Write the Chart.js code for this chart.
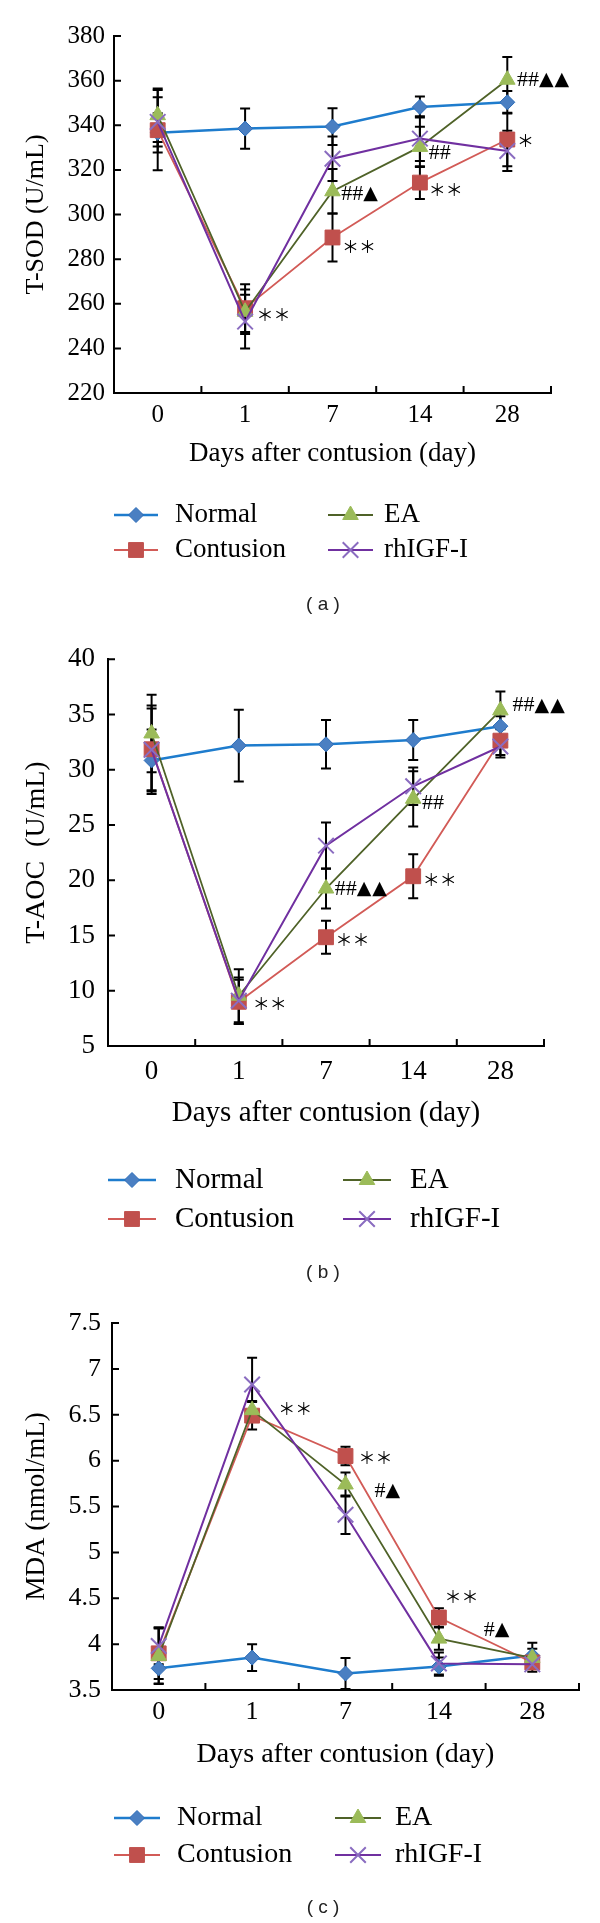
<!DOCTYPE html>
<html>
<head>
<meta charset="utf-8">
<script src="https://cdn.jsdelivr.net/npm/chart.js@4.4.1/dist/chart.umd.min.js"></script>
<style>
  html, body { margin: 0; padding: 0; background: #fff; }
  body { width: 600px; height: 1923px; position: relative; overflow: hidden; }
  canvas { position: absolute; left: 0; }
</style>
</head>
<body>
<canvas id="sod" width="600" height="630" style="top:0px"></canvas>
<canvas id="aoc" width="600" height="660" style="top:630px"></canvas>
<canvas id="mda" width="600" height="633" style="top:1290px"></canvas>
<script>
const days = ['0', '1', '7', '14', '28'];
const groups = ['Normal', 'Contusion', 'EA', 'rhIGF-I'];

// (a) T-SOD, U/mL -- means and SD
const sodNormal = [336.6, 338.5, 339.4, 348.2, 350.3];
const sodContusion = [337.8, 258.0, 289.7, 314.3, 333.6];
const sodEA = [344.5, 256.4, 310.4, 330.3, 360.4];
const sodIGF = [341.5, 252.0, 325.0, 334.0, 328.5];
const sodNormalSd = [8.8, 9.0, 8.2, 4.7, 5.0];
const sodContusionSd = [18, 10.7, 10.8, 7.3, 12];
const sodEASd = [12, 10, 10, 9, 10.2];
const sodIGFSd = [11, 12, 10, 10, 9];

// (b) T-AOC, U/mL
const aocNormal = [30.84, 32.18, 32.3, 32.69, 33.94];
const aocContusion = [31.85, 9.0, 14.84, 20.36, 32.63];
const aocEA = [33.28, 9.55, 19.25, 27.37, 35.37];
const aocIGF = [31.8, 9.1, 23.13, 28.5, 32.1];
const aocNormalSd = [2.8, 3.25, 2.2, 1.8, 0.9];
const aocContusionSd = [3.7, 2.0, 1.5, 2.0, 1.3];
const aocEASd = [3.5, 2.4, 1.8, 2.5, 1.7];
const aocIGFSd = [4.0, 2.1, 2.1, 1.7, 1.0];

// (c) MDA, nmol/mL
const mdaNormal = [3.736, 3.853, 3.68, 3.755, 3.875];
const mdaContusion = [3.9, 6.49, 6.05, 4.29, 3.8];
const mdaEA = [3.87, 6.55, 5.74, 4.06, 3.85];
const mdaIGF = [3.98, 6.83, 5.41, 3.79, 3.78];
const mdaNormalSd = [0.17, 0.145, 0.17, 0.1, 0.14];
const mdaContusionSd = [0.28, 0.15, 0.1, 0.1, 0.07];
const mdaEASd = [0.3, 0.1, 0.13, 0.12, 0.1];
const mdaIGFSd = [0.2, 0.29, 0.21, 0.12, 0.08];

// significance marks: text, category position, value
const sodMarks = [['＊＊', 1.13, 255], ['##▲', 2.1, 309.2], ['＊＊', 2.11, 285.5], ['##', 3.1, 327.5],
  ['＊＊', 3.1, 311.4], ['＊', 4.11, 333.3], ['##▲▲', 4.11, 360.2]];
const aocMarks = [['＊＊', 1.16, 8.85], ['##▲▲', 2.1, 19.2], ['＊＊', 2.11, 14.6], ['##', 3.1, 27],
  ['＊＊', 3.11, 20.1], ['##▲▲', 4.14, 35.8]];
const mdaMarks = [['＊＊', 1.28, 6.565], ['＊＊', 2.14, 6.03], ['#▲', 2.31, 5.67], ['＊＊', 3.06, 4.515],
  ['#▲', 3.48, 4.155]];

const SERIF = '"Liberation Serif", "Times New Roman", serif';
const glyphFont = {
  '＊': '17px "Noto Sans CJK SC"',
  '▲': '19px "DejaVu Sans"',
  '#': '22px ' + SERIF,
};

const looks = [
  { line: '#1e7ccd', fill: '#4a7fc2', edge: '#2b6cb8', shape: 'rectRot', r: 7.5, width: 2.5, bw: 1 },
  { line: '#d25b57', fill: '#c0504d', edge: '#c0504d', shape: 'rect', r: 10.5, width: 1.8, bw: 1 },
  { line: '#4f6228', fill: '#9bbb59', edge: '#9bbb59', shape: 'triangle', r: 9, width: 1.8, bw: 1 },
  { line: '#7030a0', fill: '#8a6cc0', edge: '#8a6cc0', shape: 'crossRot', r: 11, width: 2, bw: 2 },
];

function drawMarker(ctx, look, x, y) {
  ctx.save();
  ctx.fillStyle = look.fill;
  ctx.strokeStyle = look.edge;
  ctx.lineWidth = look.bw;
  Chart.helpers.drawPoint(ctx, { pointStyle: look.shape, radius: look.r, rotation: 0, borderWidth: look.bw }, x, y);
  ctx.restore();
}

const extras = {
  id: 'extras',
  beforeDatasetsDraw(chart) {
    // error bars
    const ctx = chart.ctx, ys = chart.scales.y;
    ctx.save();
    ctx.strokeStyle = '#000';
    ctx.lineWidth = 2;
    chart.data.datasets.forEach((ds, i) => {
      chart.getDatasetMeta(i).data.forEach((pt, j) => {
        const top = ys.getPixelForValue(ds.data[j] + ds.sd[j]);
        const bot = ys.getPixelForValue(ds.data[j] - ds.sd[j]);
        ctx.beginPath();
        ctx.moveTo(pt.x, top); ctx.lineTo(pt.x, bot);
        ctx.moveTo(pt.x - 5, top); ctx.lineTo(pt.x + 5, top);
        ctx.moveTo(pt.x - 5, bot); ctx.lineTo(pt.x + 5, bot);
        ctx.stroke();
      });
    });
    ctx.restore();
  },
  afterDraw(chart) {
    const ctx = chart.ctx, xs = chart.scales.x, ys = chart.scales.y;
    const p = chart.options.plugins.extras;
    ctx.save();
    // inward tick marks
    ctx.strokeStyle = '#000';
    ctx.lineWidth = 2;
    ctx.beginPath();
    ys.ticks.forEach(t => {
      const py = ys.getPixelForValue(t.value);
      ctx.moveTo(ys.right, py); ctx.lineTo(ys.right + 7, py);
    });
    for (let i = 0; i < days.length; i++) {
      const px = xs.getPixelForValue(i + 0.5);
      ctx.moveTo(px, xs.top); ctx.lineTo(px, xs.top - 7);
    }
    ctx.stroke();

    // significance marks, glyph by glyph so each symbol gets its own font
    ctx.fillStyle = '#000';
    ctx.textAlign = 'left';
    ctx.textBaseline = 'middle';
    p.marks.forEach(([txt, at, v]) => {
      let x = xs.getPixelForValue(at);
      const y = ys.getPixelForValue(v);
      for (const ch of txt) {
        ctx.font = glyphFont[ch];
        ctx.fillText(ch, x, y);
        x += ctx.measureText(ch).width + (ch === '▲' ? 1 : 0);
      }
    });

    // legend, two columns
    groups.forEach((g, i) => {
      const col = p.legendCols[Math.floor(i / 2)];
      const y = p.legendRows[i % 2];
      const look = looks[i];
      ctx.strokeStyle = look.line;
      ctx.lineWidth = look.width;
      ctx.beginPath();
      ctx.moveTo(col[0], y); ctx.lineTo(col[1], y);
      ctx.stroke();
      drawMarker(ctx, look, (col[0] + col[1]) / 2, y);
      ctx.fillStyle = '#000';
      ctx.font = p.legendSize + 'px ' + SERIF;
      ctx.textAlign = 'left';
      ctx.textBaseline = 'middle';
      ctx.fillText(g, col[2], y);
    });

    // caption
    ctx.fillStyle = '#222';
    ctx.font = '19px "Liberation Sans", Arial, sans-serif';
    ctx.textAlign = 'center';
    ctx.fillText(p.caption, p.captionAt[0], p.captionAt[1]);
    ctx.restore();
  }
};

function makePanel(c) {
  const datasets = c.series.map((s, i) => ({
    label: groups[i],
    data: s,
    sd: c.sds[i],
    borderColor: looks[i].line,
    borderWidth: looks[i].width,
    pointStyle: looks[i].shape,
    pointRadius: looks[i].r,
    pointBackgroundColor: looks[i].fill,
    pointBorderColor: looks[i].edge,
    pointBorderWidth: looks[i].bw,
    tension: 0,
    order: 4 - i,
  }));
  return new Chart(document.getElementById(c.id), {
    type: 'line',
    data: { labels: days, datasets },
    options: {
      responsive: false,
      animation: false,
      events: [],
      layout: {
        padding: { left: 0, top: c.box.top, right: 600 - c.box.right, bottom: c.height - c.box.bottom - c.xh },
      },
      plugins: {
        legend: { display: false },
        tooltip: { enabled: false },
        extras: c,
      },
      scales: {
        x: {
          offset: true,
          grid: { display: false, drawTicks: false },
          border: { display: true, color: '#000', width: 2 },
          ticks: { color: '#000', font: { family: SERIF, size: c.tickSize }, padding: c.tickPadX, maxRotation: 0 },
          title: {
            display: true, text: 'Days after contusion (day)', color: '#000',
            font: { family: SERIF, size: c.titleSize }, padding: { top: 0, bottom: c.xTitlePad },
          },
          afterFit: s => { s.height = c.xh; },
        },
        y: {
          min: c.yMin, max: c.yMax,
          grid: { display: false, drawTicks: false },
          border: { display: true, color: '#000', width: 2 },
          ticks: { stepSize: c.yStep, color: '#000', font: { family: SERIF, size: c.tickSize }, padding: c.tickPadY,
            callback: v => String(v) },
          title: {
            display: true, text: c.yTitle, color: '#000',
            font: { family: SERIF, size: c.yTitleSize }, padding: { top: c.yTitlePad, bottom: 0 },
          },
          afterFit: s => { s.width = c.box.left; },
        },
      },
    },
    plugins: [extras],
  });
}

makePanel({
  id: 'sod', height: 630,
  series: [sodNormal, sodContusion, sodEA, sodIGF],
  sds: [sodNormalSd, sodContusionSd, sodEASd, sodIGFSd],
  marks: sodMarks, yTitle: 'T-SOD (U/mL)', yMin: 220, yMax: 380, yStep: 20, caption: '( a )',
  box: { left: 114, right: 551, top: 36, bottom: 393 }, xh: 90,
  tickSize: 25, titleSize: 27, yTitleSize: 26, legendSize: 27, tickPadX: 7, tickPadY: 9, xTitlePad: 13, yTitlePad: 21,
  legendRows: [515, 550], legendCols: [[114, 158, 175], [328, 373, 384]], captionAt: [323, 605],
});

makePanel({
  id: 'aoc', height: 660,
  series: [aocNormal, aocContusion, aocEA, aocIGF],
  sds: [aocNormalSd, aocContusionSd, aocEASd, aocIGFSd],
  marks: aocMarks, yTitle: 'T-AOC  (U/mL)', yMin: 5, yMax: 40, yStep: 5, caption: '( b )',
  box: { left: 108, right: 544, top: 25, bottom: 416 }, xh: 95,
  tickSize: 27, titleSize: 29, yTitleSize: 28, legendSize: 29, tickPadX: 10, tickPadY: 13, xTitlePad: 10, yTitlePad: 20,
  legendRows: [550, 589], legendCols: [[108, 156, 175], [343, 391, 410]], captionAt: [323, 643],
});

makePanel({
  id: 'mda', height: 633,
  series: [mdaNormal, mdaContusion, mdaEA, mdaIGF],
  sds: [mdaNormalSd, mdaContusionSd, mdaEASd, mdaIGFSd],
  marks: mdaMarks, yTitle: 'MDA (nmol/mL)', yMin: 3.5, yMax: 7.5, yStep: 0.5, caption: '( c )',
  box: { left: 112, right: 579, top: 33, bottom: 400 }, xh: 90,
  tickSize: 26, titleSize: 28, yTitleSize: 27, legendSize: 28, tickPadX: 7, tickPadY: 11, xTitlePad: 9, yTitlePad: 21,
  legendRows: [528, 565], legendCols: [[114, 160, 177], [335, 381, 395]], captionAt: [323, 618],
});
</script>
</body>
</html>
